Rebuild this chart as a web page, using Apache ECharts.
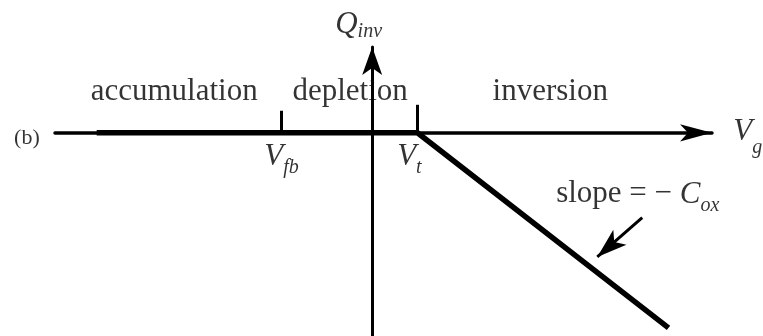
<!DOCTYPE html>
<html>
<head>
<meta charset="utf-8">
<script src="https://cdn.jsdelivr.net/npm/echarts@6/dist/echarts.min.js"></script>
<style>
  html, body { margin: 0; padding: 0; background: #fff; }
  #chart { width: 763px; height: 336px; }
</style>
</head>
<body>
<div id="chart"></div>
<script>
// Inversion charge Q_inv versus gate voltage V_g (MOS capacitor, panel b)
const vFb = -1.0;                 // flat-band voltage
const vT = 0.5;                   // threshold voltage
const qInvCurve = [[-3.04, 0], [vT, 0], [3.27, -2.16]];   // Q_inv = 0 below V_t, then slope -C_ox
const regionNames = ['accumulation', 'depletion', 'inversion'];
const regionCenters = [-2.185, -0.243, 1.965];
const slopeArrow = [[2.98, -0.94], [2.484, -1.374]];
const tickHeights = [0.244, 0.31];  // boundary marks at V_fb and V_t

const FONT = 'Liberation Serif';
const INK = '#000';

// rich text: main symbol + lowered subscript
function subLabel(main, sub, mainSize, subSize, drop, prefix) {
  const pad = Math.round(drop + 0.84 * (mainSize - subSize));
  const rich = {
    n: { fontFamily: FONT, fontSize: mainSize, color: INK, verticalAlign: 'top' },
    m: { fontFamily: FONT, fontSize: mainSize, fontStyle: 'italic', color: INK, verticalAlign: 'top' },
    s: { fontFamily: FONT, fontSize: subSize, fontStyle: 'italic', color: INK, verticalAlign: 'top', padding: [pad, 0, 0, 0] }
  };
  return {
    show: true, position: 'inside', align: 'left', verticalAlign: 'top',
    formatter: (prefix ? '{n|' + prefix + '}' : '') + '{m|' + main + '}{s|' + sub + '}',
    rich: rich
  };
}

function plainLabel(text, size) {
  return {
    show: true, position: 'inside', align: 'center', verticalAlign: 'middle',
    formatter: text, fontFamily: FONT, fontSize: size, color: INK
  };
}

const textItems = [];
regionNames.forEach((name, i) => {
  textItems.push({ value: [regionCenters[i], 0.455], label: plainLabel(name, 31) });
});
textItems.push({ value: [-3.81, -0.06], label: plainLabel('(b)', 22) });
textItems.push({ value: [-0.408, 1.364], label: subLabel('Q', 'inv', 31, 20, 3) });
textItems.push({ value: [vFb - 0.19, -0.1], label: subLabel('V', 'fb', 31, 20, 7) });
textItems.push({ value: [vT - 0.224, -0.1], label: subLabel('V', 't', 31, 20, 7) });
textItems.push({ value: [3.985, 0.177], label: subLabel('V', 'g', 31, 20, 12) });
textItems.push({ value: [2.03, -0.51], label: subLabel('C', 'ox', 31, 20, 8, 'slope = \u2212 ') });

const chart = echarts.init(document.getElementById('chart'), null, { renderer: 'canvas' });

const axisCommon = {
  type: 'value',
  axisTick: { show: false },
  axisLabel: { show: false },
  splitLine: { show: false }
};

chart.setOption({
  backgroundColor: '#fff',
  animation: false,
  textStyle: { fontFamily: FONT },
  grid: { left: 55, right: 51, top: 47, bottom: 0, containLabel: false },
  xAxis: Object.assign({}, axisCommon, {
    min: -3.5, max: 3.75,
    axisLine: { show: true, onZero: true, symbol: ['none', 'arrow'], symbolSize: [13, 32],
      lineStyle: { color: INK, width: 3.5 } }
  }),
  yAxis: Object.assign({}, axisCommon, {
    min: -2.25, max: 0.95,
    axisLine: { show: true, onZero: true, symbol: ['none', 'arrow'], symbolSize: [15, 28],
      lineStyle: { color: INK, width: 3 } }
  }),
  series: [
    {
      name: 'Q_inv',
      type: 'line',
      data: qInvCurve,
      symbol: 'none',
      clip: false,
      z: 4,
      lineStyle: { color: INK, width: 5.5, cap: 'butt', join: 'miter' },
      markLine: {
        silent: true,
        symbol: 'none',
        label: { show: false },
        lineStyle: { color: INK, width: 3, type: 'solid' },
        data: [
          [{ coord: [vFb, 0] }, { coord: [vFb, tickHeights[0]] }],
          [{ coord: [vT, 0] }, { coord: [vT, tickHeights[1]] }],
          [{ coord: slopeArrow[0], symbol: 'none' },
           { coord: slopeArrow[1], symbol: 'arrow', symbolSize: [15, 30] }]
        ]
      }
    },
    {
      name: 'labels',
      type: 'scatter',
      data: textItems,
      symbolSize: 0,
      clip: false,
      silent: true,
      z: 5
    }
  ]
});
</script>
</body>
</html>
